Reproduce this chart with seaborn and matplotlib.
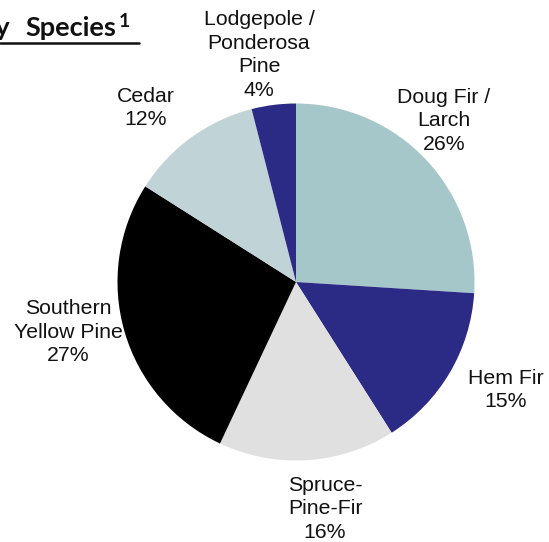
import matplotlib
matplotlib.use("Agg")
import matplotlib.pyplot as plt
import seaborn as sns
from matplotlib.lines import Line2D

sns.set_theme(style="white")
plt.rcParams["font.family"] = ["Liberation Sans", "DejaVu Sans"]

species = ["Doug Fir /\nLarch", "Hem Fir", "Spruce-\nPine-Fir",
           "Southern\nYellow Pine", "Cedar", "Lodgepole /\nPonderosa\nPine"]
shares = [26, 15, 16, 27, 12, 4]
colors = ["#A6C7C9", "#2B2A84", "#E0E0E0", "#000000", "#C0D3D6", "#2B2A84"]
# label anchor points in pixel space (x from left, y from top)
label_xy = [(444, 121), (506, 390), (325, 509), (68, 332), (146, 108), (259, 55)]

W, H = 549, 542
fig = plt.figure(figsize=(W / 100, H / 100), dpi=100)
ax = fig.add_axes([0, 0, 1, 1])
ax.pie(shares, colors=colors, startangle=90, counterclock=False,
       center=(296, H - 282), radius=178.5,
       wedgeprops=dict(linewidth=0))
ax.set_xlim(0, W)
ax.set_ylim(0, H)
ax.set_aspect("equal")
ax.axis("off")

for name, val, (x, y) in zip(species, shares, label_xy):
    ax.text(x, H - y, f"{name}\n{val}%", ha="center", va="center",
            fontsize=15.3, color="#111111", linespacing=1.32)

# title, clipped at the left edge
title_font = ["Lato", "DejaVu Sans"]
fig.text(10 / W, 1 - 36 / H, "by", ha="right", va="baseline",
         fontsize=19.5, fontweight="bold", family=title_font, color="#111111")
fig.text(25 / W, 1 - 36 / H, "Species", ha="left", va="baseline",
         fontsize=19.5, fontweight="bold", family=title_font, color="#111111")
fig.text(119 / W, 1 - 27 / H, "1", ha="left", va="baseline",
         fontsize=14, fontweight="bold", family=title_font, color="#111111")
fig.add_artist(Line2D([0, 139 / W], [1 - 43 / H, 1 - 43 / H],
                      transform=fig.transFigure, color="#111111", linewidth=1.8))

fig.savefig("out.png", dpi=100)
